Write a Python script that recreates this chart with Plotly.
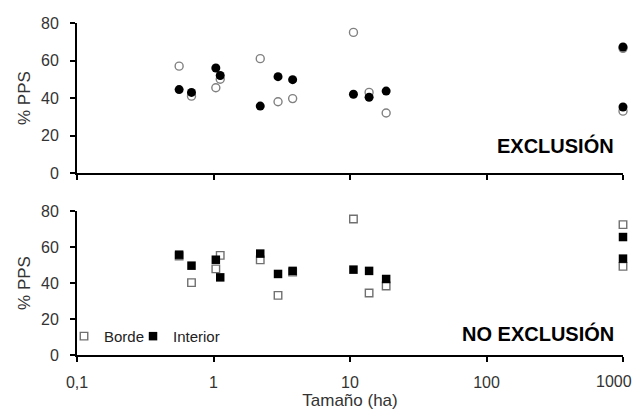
import plotly.graph_objects as go
from plotly.subplots import make_subplots

# Data
sizes = [0.56, 0.69, 1.04, 1.12, 2.2, 2.97, 3.8, 10.6, 13.8, 18.4, 1000, 1000]
excl_borde = [57, 41, 45.5, 50, 61, 38, 39.7, 75, 43, 32, 33, 66.5]
excl_interior = [44.5, 43, 56, 52, 35.7, 51.4, 49.8, 42, 40.4, 43.7, 67.2, 35.2]
noexcl_borde = [55, 40.2, 47.8, 55.3, 52.8, 33.1, 46, 75.5, 34.4, 38.3, 72.4, 49.2]
noexcl_interior = [55.7, 49.6, 52.9, 43.1, 56.3, 45, 46.7, 47.4, 46.7, 42.2, 65.5, 53.5]
x_tickvals = [0.1, 1, 10, 100, 1000]
x_ticktext = ["0,1", "1", "10", "100", "1000"]
y_tickvals = [0, 20, 40, 60, 80]

FONT = "Arial, Liberation Sans, sans-serif"
GREY = "#808080"
TXT = "#333333"

fig = make_subplots(rows=2, cols=1, shared_xaxes=False)

fig.add_trace(go.Scatter(x=sizes, y=excl_borde, mode="markers", name="Borde", showlegend=False,
                         marker=dict(symbol="circle-open", size=8, color=GREY, line=dict(width=1.4, color=GREY)),
                         cliponaxis=False), row=1, col=1)
fig.add_trace(go.Scatter(x=sizes, y=excl_interior, mode="markers", name="Interior", showlegend=False,
                         marker=dict(symbol="circle", size=9, color="black"),
                         cliponaxis=False), row=1, col=1)
fig.add_trace(go.Scatter(x=sizes, y=noexcl_borde, mode="markers", name="Borde", legend="legend",
                         marker=dict(symbol="square", size=7.5, color="white", line=dict(width=1.4, color="#707070")),
                         cliponaxis=False), row=2, col=1)
fig.add_trace(go.Scatter(x=sizes, y=noexcl_interior, mode="markers", name="Interior", legend="legend2",
                         marker=dict(symbol="square", size=8.5, color="black"),
                         cliponaxis=False), row=2, col=1)

tickfont = dict(family=FONT, size=16, color=TXT)
xcommon = dict(type="log", range=[-1, 3], showgrid=False, zeroline=False, automargin=False,
               showline=True, linecolor="black", linewidth=2,
               ticks="outside", ticklen=5, tickwidth=1.5, tickcolor="black",
               tickvals=x_tickvals,
               ticktext=x_ticktext[:-1] + [""],   # last label placed right-aligned below
               ticklabelstandoff=7, tickfont=tickfont)
ycommon = dict(range=[0, 80], showgrid=False, zeroline=False, automargin=False,
               showline=True, linecolor="black", linewidth=2,
               ticks="outside", ticklen=5, tickwidth=1.5, tickcolor="black",
               tickvals=y_tickvals, ticklabelstandoff=8, tickfont=tickfont,
               title=dict(text="% PPS", font=dict(family=FONT, size=17, color=TXT), standoff=6))

fig.update_xaxes(**xcommon)
fig.update_yaxes(**ycommon)
fig.update_xaxes(showticklabels=False, row=1, col=1)
fig.update_xaxes(title=dict(text="Tamaño (ha)", font=dict(family=FONT, size=17, color=TXT), standoff=4), row=2, col=1)
fig.update_yaxes(domain=[0.548, 1.0], row=1, col=1)
fig.update_yaxes(domain=[0.0, 0.434], row=2, col=1)

# last tick label, kept inside the figure (right-aligned near its tick, as in the original)
fig.add_annotation(text=x_ticktext[-1], xref="x2", yref="paper", x=3, y=-0.081,
                   xanchor="right", yanchor="middle", xshift=11, showarrow=False,
                   font=tickfont)

fig.add_annotation(text="<b>EXCLUSIÓN</b>", xref="paper", yref="paper", x=0.987, y=0.631,
                   xanchor="right", yanchor="middle", showarrow=False,
                   font=dict(family=FONT, size=20, color="black"))
fig.add_annotation(text="<b>NO EXCLUSIÓN</b>", xref="paper", yref="paper", x=0.987, y=0.066,
                   xanchor="right", yanchor="middle", showarrow=False,
                   font=dict(family=FONT, size=20, color="black"))

legend_common = dict(orientation="h", y=0.056, xanchor="left", yanchor="middle",
                     bgcolor="rgba(0,0,0,0)", font=dict(family=FONT, size=15, color="#222222"),
                     itemwidth=30)

fig.update_layout(
    width=634, height=417,
    margin=dict(l=77, r=11, t=23, b=62, autoexpand=False),
    paper_bgcolor="white", plot_bgcolor="white",
    legend=dict(x=-0.0238, **legend_common),
    legend2=dict(x=0.1026, **legend_common),
)

fig.write_html("out.html", config={"displayModeBar": False},
               post_script="document.body.style.margin='0px';document.body.style.overflow='hidden';")
